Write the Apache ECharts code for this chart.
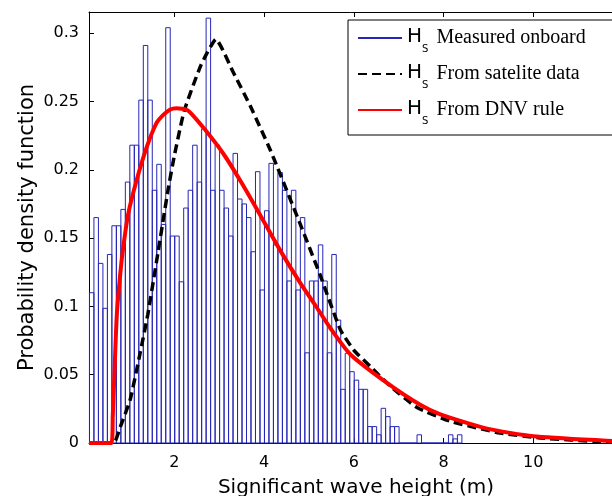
<!DOCTYPE html>
<html><head><meta charset="utf-8">
<script src="https://cdn.jsdelivr.net/npm/echarts@6/dist/echarts.min.js"></script>
<style>html,body{margin:0;padding:0;background:#fff}#chart{width:612px;height:496px}</style>
</head><body><div id="chart"></div>
<script>
// ---- data ----
const binStart = 0.11;
const binWidth = 0.1;
const measuredDensity = [
  0.110, 0.165, 0.1315, 0.0986, 0.138, 0.159, 0.159, 0.171, 0.191, 0.218,
  0.218, 0.251, 0.291, 0.251, 0.185, 0.204, 0.160, 0.304, 0.1515, 0.1515,
  0.118, 0.172, 0.185, 0.218, 0.191, 0.230, 0.311, 0.185, 0.218, 0.185,
  0.172, 0.1515, 0.212, 0.1786, 0.175, 0.165, 0.140, 0.1986, 0.112, 0.170,
  0.2047, 0.145, 0.198, 0.185, 0.1186, 0.185, 0.112, 0.165, 0.066, 0.1186,
  0.1186, 0.145, 0.1186, 0.066, 0.138, 0.090, 0.0393, 0.0657, 0.0522, 0.046,
  0.0393, 0.0393, 0.012, 0.012, 0.006, 0.0254, 0.0193, 0.012, 0.012, 0,
  0, 0, 0, 0.006, 0, 0, 0, 0, 0, 0,
  0.006, 0.003, 0.006
];
const satX = [0.1, 0.65, 0.8, 1.02, 1.24, 1.41, 1.64, 1.86, 2.0, 2.22, 2.6, 2.93, 3.32, 3.69, 4.14, 4.81, 5.25, 5.7, 6.0, 6.37, 6.8, 7.41, 8.15, 9.26, 10.16, 11.5, 12];
const satY = [0, 0, 0.012, 0.032, 0.066, 0.094, 0.14, 0.185, 0.21, 0.243, 0.277, 0.2955, 0.271, 0.247, 0.2145, 0.16, 0.123, 0.083, 0.068, 0.056, 0.042, 0.026, 0.0159, 0.0073, 0.0037, 0.001, 0.0008];
const dnvX = [0.1, 0.6, 0.63, 0.66, 0.72, 0.8, 0.86, 0.97, 1.15, 1.38, 1.6, 1.75, 1.9, 2.05, 2.3, 2.67, 3.11, 3.49, 3.86, 4.36, 4.81, 5.18, 5.48, 5.92, 6.74, 7.48, 7.93, 8.97, 10.0, 11.64, 12];
const dnvY = [0, 0, 0.02, 0.045, 0.094, 0.125, 0.1425, 0.167, 0.191, 0.216, 0.234, 0.24, 0.244, 0.245, 0.2435, 0.230, 0.211, 0.191, 0.170, 0.141, 0.117, 0.099, 0.084, 0.065, 0.044, 0.028, 0.021, 0.0105, 0.005, 0.0017, 0.0013];
const xTicks = [2, 4, 6, 8, 10];
const yTicks = [0, 0.05, 0.1, 0.15, 0.2, 0.25, 0.3];
const seriesNames = ['Measured onboard', 'From satelite data', 'From DNV rule'];

// ---- build ----
const histData = measuredDensity.map((h, i) => [binStart + i * binWidth, binStart + (i + 1) * binWidth, h]);
const zip = (xs, ys) => xs.map((x, i) => [x, ys[i]]);
const sans = 'DejaVu Sans';
const serif = 'Liberation Serif';
const blue = '#2626b8';

const chart = echarts.init(document.getElementById('chart'), null, {renderer: 'canvas'});
chart.setOption({
  animation: false,
  backgroundColor: '#fff',
  grid: {left: 89, top: 12, width: 534, height: 431, containLabel: false, outerBoundsMode: 'none'},
  xAxis: [{
    type: 'value', position: 'bottom', min: 0.1, max: 12,
    axisLine: {show: true, onZero: false, lineStyle: {color: '#000', width: 1}},
    axisTick: {show: true, inside: true, length: 5, customValues: xTicks, lineStyle: {color: '#000'}},
    axisLabel: {customValues: xTicks, fontSize: 16, fontFamily: sans, color: '#000', margin: 12},
    splitLine: {show: false},
    name: 'Significant wave height (m)', nameLocation: 'middle', nameGap: 35,
    nameTextStyle: {fontSize: 20, fontFamily: sans, color: '#000'}
  }, {
    type: 'value', position: 'top', min: 0.1, max: 12,
    axisLine: {show: true, onZero: false, lineStyle: {color: '#000', width: 1}},
    axisTick: {show: true, inside: true, length: 5, customValues: xTicks, lineStyle: {color: '#000'}},
    axisLabel: {show: false},
    splitLine: {show: false}
  }],
  yAxis: {
    type: 'value', min: 0, max: 0.3155,
    axisLine: {show: true, onZero: false, lineStyle: {color: '#000', width: 1}},
    axisTick: {show: true, inside: true, length: 5, customValues: yTicks, lineStyle: {color: '#000'}},
    axisLabel: {customValues: yTicks, fontSize: 16, fontFamily: sans, color: '#000', margin: 10,
      formatter: v => String(+(+v).toFixed(2))},
    splitLine: {show: false},
    name: 'Probability density function', nameLocation: 'middle', nameGap: 51, nameMoveOverlap: false,
    nameTextStyle: {fontSize: 21, fontFamily: sans, color: '#000'}
  },
  legend: {
    data: seriesNames,
    orient: 'vertical', left: 348, top: 20,
    padding: [7, 60, 9, 9], itemGap: 9, itemWidth: 44, itemHeight: 14, itemTextGap: 2,
    backgroundColor: '#fff', borderColor: '#000', borderWidth: 1, borderRadius: 0,
    selectedMode: false,
    itemStyle: {opacity: 0},
    formatter: name => '{h|H}{s|S}{t|' + name + '}',
    textStyle: {
      color: '#000',
      rich: {
        h: {fontFamily: sans, fontSize: 20, color: '#000', verticalAlign: 'top', lineHeight: 22},
        s: {fontFamily: sans, fontSize: 10, color: '#000', verticalAlign: 'top', lineHeight: 10, padding: [17, 0, 0, 0]},
        t: {fontFamily: serif, fontSize: 20, color: '#000', verticalAlign: 'top', lineHeight: 22, padding: [1, 0, 0, 8]}
      }
    }
  },
  series: [
    {
      name: 'hist', type: 'custom', xAxisIndex: 0, yAxisIndex: 0,
      data: histData, encode: {x: [0, 1], y: 2}, z: 1,
      renderItem: (params, api) => {
        const p0 = api.coord([api.value(0), api.value(2)]);
        const p1 = api.coord([api.value(1), 0]);
        return {type: 'rect', shape: {x: p0[0], y: p0[1], width: p1[0] - p0[0], height: p1[1] - p0[1]},
          style: {fill: 'none', stroke: blue, lineWidth: 1}};
      }
    },
    {name: seriesNames[0], type: 'line', data: [], symbol: 'none', lineStyle: {color: blue, width: 1}, itemStyle: {color: blue}},
    {name: seriesNames[1], type: 'line', data: zip(satX, satY), symbol: 'none', z: 3, smooth: 0.15,
      lineStyle: {color: '#000', width: 3.5, type: [9, 5]}, itemStyle: {color: '#000'}},
    {name: seriesNames[2], type: 'line', data: zip(dnvX, dnvY), symbol: 'none', z: 4, smooth: 0.2,
      lineStyle: {color: '#ff0000', width: 4}, itemStyle: {color: '#ff0000'}}
  ]
});
</script></body></html>
